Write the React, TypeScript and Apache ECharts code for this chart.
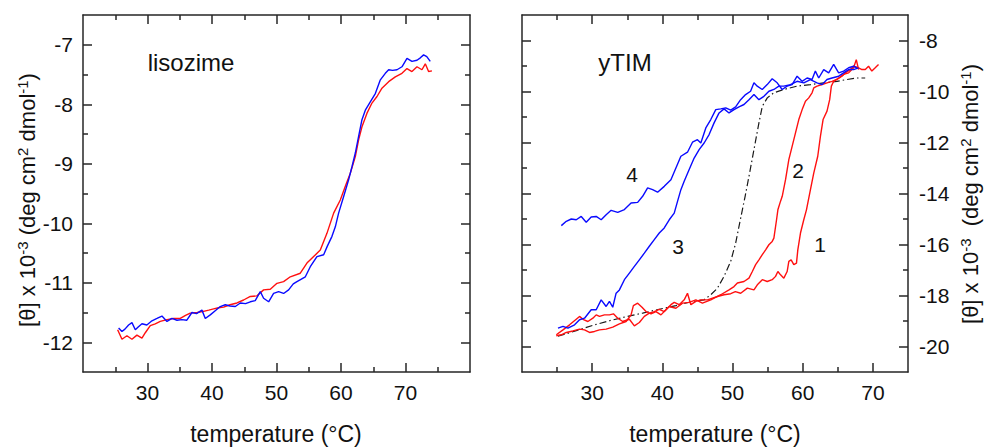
import React, { useEffect, useRef } from "react";
import * as echarts from "echarts";

// ---------- data (temperature °C, [θ] x 10^-3) ----------
const lisozimeBlue: [number, number][] = [
  [25.52, -11.76], [26.04, -11.82], [26.5, -11.78], [27.07, -11.71], [27.59, -11.67], [28.11, -11.79],
  [28.6, -11.74], [29.14, -11.69], [29.9, -11.71], [30.69, -11.64], [31.47, -11.6], [32.24, -11.56],
  [33.02, -11.65], [33.79, -11.6], [34.57, -11.63], [35.34, -11.62], [36.1, -11.63], [36.89, -11.5],
  [37.6, -11.52], [38.44, -11.46], [38.96, -11.6], [39.73, -11.54], [40.5, -11.47], [41.28, -11.4],
  [42.06, -11.37], [42.8, -11.39], [43.61, -11.4], [44.39, -11.34], [45.2, -11.35], [45.94, -11.32],
  [46.7, -11.3], [47.49, -11.15], [48.0, -11.26], [48.78, -11.32], [49.55, -11.18], [50.33, -11.15],
  [51.1, -11.18], [51.88, -11.12], [52.6, -11.02], [53.17, -10.98], [54.47, -10.9], [55.24, -10.73],
  [56.27, -10.56], [57.31, -10.53], [57.9, -10.38], [58.6, -10.22], [59.12, -10.06], [59.63, -9.83],
  [60.41, -9.55], [61.18, -9.27], [61.7, -9.05], [62.22, -8.82], [62.73, -8.54], [63.25, -8.26],
  [63.77, -8.1], [64.54, -7.96], [65.32, -7.82], [66.1, -7.59], [66.87, -7.48], [67.39, -7.42],
  [68.0, -7.43], [68.68, -7.42], [69.45, -7.37], [70.23, -7.23], [71.0, -7.28], [71.78, -7.26],
  [72.3, -7.22], [72.81, -7.17], [73.3, -7.2], [73.84, -7.28],
];

const lisozimeRed: [number, number][] = [
  [25.37, -11.79], [26.04, -11.95], [26.81, -11.89], [27.59, -11.95], [28.36, -11.88], [29.14, -11.93],
  [29.66, -11.84], [30.43, -11.72], [31.2, -11.69], [31.98, -11.65], [33.02, -11.62], [34.05, -11.6],
  [35.08, -11.6], [35.9, -11.55], [36.63, -11.51], [37.7, -11.5], [38.7, -11.48], [39.5, -11.46],
  [40.25, -11.44], [41.0, -11.42], [41.8, -11.41], [42.8, -11.37], [43.87, -11.34], [44.9, -11.29],
  [45.94, -11.23], [46.97, -11.22], [48.0, -11.12], [49.04, -11.11], [50.07, -11.01], [51.1, -10.98],
  [52.14, -10.9], [53.69, -10.84], [54.72, -10.67], [55.76, -10.56], [56.79, -10.45], [57.82, -10.17],
  [58.86, -9.83], [59.89, -9.61], [60.67, -9.38], [61.44, -9.16], [62.22, -8.88], [62.73, -8.6],
  [63.25, -8.38], [64.03, -8.15], [64.8, -7.98], [65.58, -7.87], [66.35, -7.73], [67.39, -7.62],
  [68.42, -7.54], [69.45, -7.48], [70.23, -7.4], [71.0, -7.45], [71.78, -7.37], [72.55, -7.42],
  [73.07, -7.32], [73.58, -7.45], [74.1, -7.44],
];

// yTIM curve 1 (red, highest transition temperature)
const ytimCurve1: [number, number][] = [
  [24.89, -19.58], [25.6, -19.54], [26.31, -19.45], [27.25, -19.39], [28.2, -19.32], [28.91, -19.35],
  [29.62, -19.45], [30.33, -19.41], [31.04, -19.35], [31.99, -19.32], [32.93, -19.24], [33.88, -19.11],
  [34.83, -19.02], [35.54, -18.76], [35.87, -18.4], [36.48, -18.3], [37.1, -18.46], [37.67, -18.63],
  [38.38, -18.72], [39.09, -18.63], [39.8, -18.76], [40.51, -18.56], [41.22, -18.36], [41.69, -18.27],
  [42.4, -18.36], [43.11, -18.17], [43.58, -17.91], [44.06, -18.36], [44.77, -18.23], [45.48, -18.17],
  [46.43, -18.17], [47.85, -18.04], [48.79, -17.97], [49.74, -17.93], [50.4, -17.85], [51.16, -17.91],
  [52.11, -17.71], [53.05, -17.78], [53.53, -17.58], [54.24, -17.38], [54.94, -17.45], [55.65, -17.38],
  [56.13, -17.25], [56.46, -17.06], [56.84, -17.19], [57.31, -17.32], [57.78, -17.06], [58.02, -16.66],
  [58.35, -16.6], [58.73, -16.79], [59.11, -16.73], [59.3, -16.21], [59.68, -15.55], [60.15, -15.03],
  [60.53, -14.64], [61.1, -13.85], [61.57, -13.2], [62.14, -12.54], [62.52, -11.76], [62.9, -11.1],
  [63.46, -10.77], [63.84, -10.32], [64.08, -9.79], [64.41, -9.6], [65.12, -9.47], [65.83, -9.33],
  [66.54, -9.27], [67.25, -9.07], [67.63, -8.75], [67.96, -9.14],
];

// yTIM curve 2 (red)
const ytimCurve2: [number, number][] = [
  [24.89, -19.54], [25.84, -19.35], [26.78, -19.15], [27.73, -18.93], [28.2, -18.82], [28.77, -18.95],
  [29.39, -19.02], [30.1, -18.89], [30.57, -18.76], [31.04, -18.82], [31.75, -18.76], [32.46, -18.76],
  [33.03, -18.72], [33.64, -18.89], [34.35, -19.02], [35.3, -18.93], [36.01, -19.19], [36.72, -19.06],
  [37.43, -18.82], [38.14, -18.69], [38.85, -18.63], [39.56, -18.54], [40.27, -18.63], [40.98, -18.43],
  [41.93, -18.5], [42.87, -18.3], [43.82, -18.27], [44.77, -18.17], [45.71, -18.3], [46.9, -18.17],
  [48.32, -17.97], [49.5, -17.78], [50.21, -17.65], [50.69, -17.51], [51.63, -17.45], [52.34, -17.32],
  [52.82, -17.06], [53.29, -16.79], [53.76, -16.6], [54.24, -16.4], [54.71, -16.21], [55.18, -16.01],
  [55.65, -15.88], [55.89, -15.75], [56.27, -15.03], [56.46, -14.64], [56.84, -14.3], [57.08, -14.11],
  [57.55, -13.46], [58.02, -12.67], [58.49, -12.15], [58.97, -11.62], [59.44, -11.1], [59.92, -10.71],
  [60.39, -10.38], [60.86, -10.25], [61.33, -10.05], [61.57, -9.86], [62.04, -9.79], [62.75, -9.73],
  [63.46, -9.66], [64.17, -9.6], [64.88, -9.53], [65.59, -9.4], [66.07, -9.27], [66.78, -9.14],
  [67.25, -9.01], [67.96, -9.07], [68.43, -9.14], [68.91, -9.14], [69.38, -9.01], [69.85, -9.2],
  [70.33, -9.07], [70.8, -8.94],
];

// yTIM curve 3 (blue)
const ytimCurve3: [number, number][] = [
  [25.13, -19.28], [25.84, -19.21], [26.55, -19.28], [27.49, -19.15], [28.2, -18.95], [28.91, -18.89],
  [29.86, -18.56], [30.57, -18.56], [31.28, -18.17], [31.99, -18.43], [32.46, -18.23], [32.93, -18.46],
  [33.41, -17.91], [33.88, -17.78], [34.59, -17.38], [35.3, -17.12], [36.01, -16.86], [36.72, -16.6],
  [37.43, -16.34], [38.14, -16.07], [38.85, -15.81], [39.56, -15.55], [40.27, -15.35], [40.98, -15.03],
  [41.69, -14.77], [42.16, -14.31], [42.64, -13.85], [43.11, -13.52], [43.82, -13.06], [44.53, -12.61],
  [45.24, -12.28], [45.95, -12.02], [46.66, -11.69], [47.37, -11.23], [48.08, -10.84], [48.79, -10.68],
  [49.5, -10.84], [50.21, -10.71], [50.92, -10.6], [51.63, -10.51], [52.34, -10.32], [53.05, -10.12],
  [53.76, -10.32], [54.47, -10.19], [55.18, -9.99], [55.89, -9.92], [56.6, -9.79], [57.31, -9.79],
  [58.25, -9.73], [59.2, -9.6], [60.15, -9.66], [61.09, -9.53], [62.04, -9.66], [62.75, -9.73],
  [63.46, -9.53], [64.17, -9.47], [65.12, -9.4], [65.83, -9.27], [66.54, -9.14], [67.25, -9.14],
  [67.96, -9.07],
];

// yTIM curve 4 (blue)
const ytimCurve4: [number, number][] = [
  [25.6, -15.26], [26.31, -15.09], [27.02, -15.0], [27.73, -15.03], [28.44, -14.9], [29.15, -15.13],
  [29.86, -14.92], [30.57, -14.9], [31.28, -15.03], [31.99, -14.83], [32.7, -14.66], [33.64, -14.74],
  [34.59, -14.63], [35.54, -14.37], [36.48, -14.35], [37.19, -14.11], [37.9, -13.78], [38.61, -13.85],
  [39.32, -13.95], [40.27, -13.72], [41.22, -13.46], [41.93, -13.0], [42.64, -12.54], [43.58, -12.38],
  [44.29, -11.99], [45.0, -11.89], [45.48, -12.02], [46.19, -11.43], [46.9, -11.1], [47.61, -10.71],
  [48.32, -10.68], [49.03, -10.64], [49.74, -10.73], [50.44, -10.6], [51.15, -10.32], [51.86, -10.12],
  [52.57, -9.99], [53.05, -9.66], [53.52, -9.79], [54.23, -9.92], [54.94, -9.73], [55.65, -9.5],
  [56.36, -9.66], [57.07, -9.92], [57.78, -9.79], [58.49, -9.73], [59.2, -9.4], [59.91, -9.6],
  [60.62, -9.47], [61.33, -9.53], [61.8, -9.2], [62.28, -9.47], [62.99, -9.14], [63.7, -9.27],
  [64.41, -8.94], [65.12, -9.27], [65.83, -9.2], [66.54, -9.07], [67.25, -9.01], [67.72, -9.07],
];

// yTIM fitted curve (black dash-dot)
const ytimFit: [number, number][] = [
  [25.13, -19.6], [27.73, -19.38], [30.1, -19.17], [32.46, -18.99], [34.83, -18.83], [37.19, -18.69],
  [39.56, -18.54], [41.93, -18.4], [44.29, -18.23], [45.95, -18.17], [46.9, -17.97], [47.85, -17.71],
  [48.79, -17.25], [49.74, -16.66], [50.45, -15.94], [50.92, -15.29], [51.4, -14.64], [51.8, -14.1],
  [52.34, -13.33], [53.05, -12.28], [53.76, -11.23], [54.24, -10.58], [54.95, -10.25], [55.89, -10.05],
  [57.31, -9.92], [59.2, -9.79], [61.1, -9.73], [62.99, -9.66], [64.88, -9.6], [66.3, -9.53],
  [67.72, -9.47], [68.9, -9.47],
];

// ---------- ticks ----------
const leftXMajor = [30, 40, 50, 60, 70];
const leftXMinor = [25, 35, 45, 55, 65, 75];
const leftYMajor = [-12, -11, -10, -9, -8, -7];
const leftYMinor = [-11.5, -10.5, -9.5, -8.5, -7.5];
const rightXMajor = [30, 40, 50, 60, 70];
const rightXMinor = [25, 35, 45, 55, 65];
const rightYMajor = [-20, -18, -16, -14, -12, -10, -8];
const rightYMinor = [-19, -17, -15, -13, -11, -9];

const FONT = "'Liberation Sans', Arial, Helvetica, sans-serif";
const AXIS_COLOR = "#262626";
const BLUE = "#0a0aff";
const RED = "#ff1010";

function axisPair(
  gridIndex: number,
  position: string,
  min: number,
  max: number,
  majors: number[],
  minors: number[],
  showLabels: boolean,
  margin: number
) {
  const base: any = {
    type: "value",
    gridIndex,
    position,
    min,
    max,
    splitLine: { show: false },
    z: 5,
  };
  return [
    {
      ...base,
      axisLine: { show: true, onZero: false, lineStyle: { color: AXIS_COLOR, width: 1.5 } },
      axisTick: {
        show: true,
        inside: true,
        length: 9,
        customValues: majors,
        lineStyle: { color: AXIS_COLOR, width: 1.5 },
      },
      axisLabel: showLabels
        ? { show: true, customValues: majors, margin, color: "#111", fontSize: 21, fontFamily: FONT }
        : { show: false },
    },
    {
      ...base,
      axisLine: { show: false, onZero: false },
      axisTick: {
        show: true,
        inside: true,
        length: 5,
        customValues: minors,
        lineStyle: { color: AXIS_COLOR, width: 1.5 },
      },
      axisLabel: { show: false },
    },
  ];
}

function lineSeries(data: [number, number][], color: string, xi: number, yi: number, dash?: any) {
  return {
    type: "line",
    data,
    xAxisIndex: xi,
    yAxisIndex: yi,
    showSymbol: false,
    symbol: "none",
    silent: true,
    lineStyle: { color, width: dash ? 1.2 : 1.4, type: dash || "solid" },
    z: 3,
  };
}

const yTitleRich = {
  sup: { fontSize: 15, fontFamily: FONT, fill: "#111", color: "#111", verticalAlign: "top", padding: [0, 0, 9, 0] },
  n: { fontSize: 22, fontFamily: FONT, fill: "#111", color: "#111" },
};
const yTitleText = "{n|[θ] x 10}{sup|-3}{n| (deg cm}{sup|2}{n| dmol}{sup|-1}{n|)}";
const yTitleTextRight = "{n|[θ] x 10}{sup|-3}{n|  (deg cm}{sup|2}{n| dmol}{sup|-1}{n|)}";

function txt(x: number, y: number, text: string, size: number) {
  return {
    type: "text",
    x,
    y,
    style: { text, fontSize: size, fontFamily: FONT, fill: "#111", align: "center", verticalAlign: "middle" },
  };
}

export default function App() {
  const ref = useRef<HTMLDivElement>(null);
  useEffect(() => {
    if (!ref.current) return;
    const chart = echarts.init(ref.current, null, { renderer: "svg" });
    const option: any = {
      animation: false,
      backgroundColor: "#ffffff",
      grid: [
        { left: 83, top: 15, width: 387, height: 357 },
        { left: 522, top: 15, width: 386, height: 357 },
      ],
      xAxis: [
        ...axisPair(0, "bottom", 20, 80, leftXMajor, leftXMinor, true, 10),
        ...axisPair(0, "top", 20, 80, leftXMajor, leftXMinor, false, 8),
        ...axisPair(1, "bottom", 20, 75, rightXMajor, rightXMinor, true, 10),
        ...axisPair(1, "top", 20, 75, rightXMajor, rightXMinor, false, 8),
      ],
      yAxis: [
        ...axisPair(0, "left", -12.5, -6.5, leftYMajor, leftYMinor, true, 10),
        ...axisPair(0, "right", -12.5, -6.5, leftYMajor, leftYMinor, false, 8),
        ...axisPair(1, "left", -21, -7, rightYMajor, rightYMinor, false, 8),
        ...axisPair(1, "right", -21, -7, rightYMajor, rightYMinor, true, 11),
      ],
      series: [
        lineSeries(lisozimeRed, RED, 0, 0),
        lineSeries(lisozimeBlue, BLUE, 0, 0),
        lineSeries(ytimFit, "#1a1a1a", 4, 4, [7, 3, 1.5, 3]),
        lineSeries(ytimCurve1, RED, 4, 4),
        lineSeries(ytimCurve2, RED, 4, 4),
        lineSeries(ytimCurve3, BLUE, 4, 4),
        lineSeries(ytimCurve4, BLUE, 4, 4),
      ],
      graphic: [
        txt(276, 434, "temperature (°C)", 23),
        txt(715, 434, "temperature (°C)", 23),
        {
          type: "text",
          x: 27,
          y: 200,
          rotation: Math.PI / 2,
          style: { text: yTitleText, rich: yTitleRich, fontSize: 22, fontFamily: FONT, fill: "#111", align: "center", verticalAlign: "middle" },
        },
        {
          type: "text",
          x: 970,
          y: 194,
          rotation: Math.PI / 2,
          style: { text: yTitleTextRight, rich: yTitleRich, fontSize: 22, fontFamily: FONT, fill: "#111", align: "center", verticalAlign: "middle" },
        },
        txt(191, 62, "lisozime", 24),
        txt(625, 62, "yTIM", 24),
        txt(632, 174, "4", 21),
        txt(678, 246, "3", 21),
        txt(798, 170, "2", 21),
        txt(820, 244, "1", 21),
      ],
    };
    chart.setOption(option);
    return () => chart.dispose();
  }, []);
  return (
    <div
      ref={ref}
      style={{ position: "fixed", left: 0, top: 0, width: 984, height: 448, background: "#fff" }}
    />
  );
}
